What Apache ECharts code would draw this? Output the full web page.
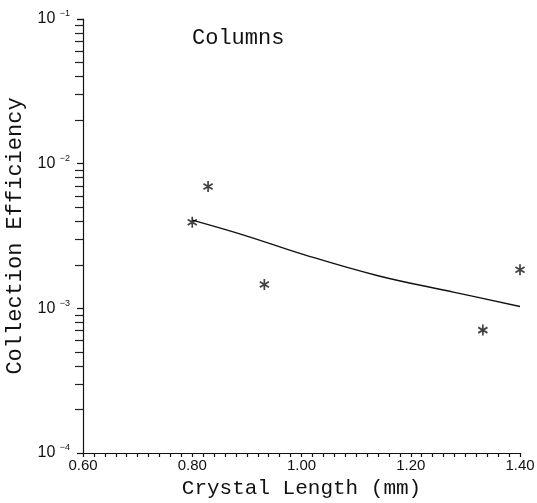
<!DOCTYPE html>
<html>
<head>
<meta charset="utf-8">
<script src="https://cdn.jsdelivr.net/npm/echarts@6/dist/echarts.min.js"></script>
<style>
  html, body { margin: 0; padding: 0; background: #fff; }
  #chart { width: 537px; height: 503px; }
</style>
</head>
<body>
<div id="chart"></div>
<script>
// measured points (asterisks)
var pointX = [0.80, 0.829, 0.932, 1.332, 1.40];
var pointY = [3.94e-3, 6.95e-3, 1.46e-3, 7.07e-4, 1.85e-3];

// fitted curve
var curveX = [0.80, 0.90, 1.00, 1.14, 1.28, 1.40];
var curveY = [4.07e-3, 3.16e-3, 2.38e-3, 1.68e-3, 1.29e-3, 1.03e-3];

var xTicks = ['0.60', '0.80', '1.00', '1.20', '1.40'];

var monoFont = '"Liberation Mono", "DejaVu Sans Mono", monospace';
var sansFont = '"Liberation Sans", Arial, sans-serif';

var star = 'path://M-0.8,-5L-0.8,5L0.8,5L0.8,-5Z' +
    'M3.93,3.19L4.73,1.81L-3.93,-3.19L-4.73,-1.81Z' +
    'M3.93,-3.19L-4.73,1.81L-3.93,3.19L4.73,-1.81Z';

var chart = echarts.init(document.getElementById('chart'));

var option = {
    backgroundColor: '#fff',
    animation: false,
    grid: { left: 83, right: 17, top: 19, bottom: 50, containLabel: false, outerBoundsMode: 'none' },
    xAxis: {
        type: 'value',
        min: 0.6,
        max: 1.4,
        interval: 0.2,
        name: 'Crystal Length (mm)',
        nameLocation: 'middle',
        nameGap: 25,
        nameTextStyle: { fontFamily: monoFont, fontSize: 21, color: '#111' },
        axisLine: { show: true, onZero: false, lineStyle: { color: '#111', width: 1.2 } },
        axisTick: { show: true, inside: false, length: 4, lineStyle: { color: '#111', width: 1.2 } },
        minorTick: { show: true, splitNumber: 10, length: 4, lineStyle: { color: '#111', width: 1.2 } },
        axisLabel: {
            margin: 5,
            fontFamily: sansFont,
            fontSize: 15,
            color: '#111',
            formatter: function (v) {
                return xTicks[Math.round((v - 0.6) / 0.2)];
            }
        },
        splitLine: { show: false }
    },
    yAxis: {
        type: 'log',
        logBase: 10,
        min: 1e-4,
        max: 1e-1,
        interval: 1,
        name: 'Collection Efficiency',
        nameLocation: 'middle',
        nameGap: 47,
        nameRotate: 90,
        nameTextStyle: { fontFamily: monoFont, fontSize: 22, color: '#111' },
        axisLine: { show: true, lineStyle: { color: '#111', width: 1.2 } },
        axisTick: { show: true, inside: false, length: 6, lineStyle: { color: '#111', width: 1.2 } },
        minorTick: { show: true, splitNumber: 9, length: 8, lineStyle: { color: '#222', width: 1.2 } },
        axisLabel: {
            margin: 13,
            fontFamily: sansFont,
            fontSize: 16,
            color: '#111',
            formatter: function (v) {
                var e = Math.round(Math.log(v) / Math.LN10);
                return '10 {s|\u2212' + Math.abs(e) + '}';
            },
            rich: {
                s: { fontFamily: sansFont, fontSize: 9, color: '#111', padding: [0, 0, 10, 0] }
            }
        },
        splitLine: { show: false }
    },
    graphic: [{
        type: 'text',
        left: 192,
        top: 27,
        style: { text: 'Columns', font: '22px ' + monoFont, fill: '#111' }
    }],
    series: [
        {
            type: 'line',
            data: curveX.map(function (x, i) { return [x, curveY[i]]; }),
            smooth: 0.4,
            showSymbol: false,
            lineStyle: { color: '#111', width: 1.4 }
        },
        {
            type: 'scatter',
            data: pointX.map(function (x, i) { return [x, pointY[i]]; }),
            symbol: star,
            symbolSize: [10, 11],
            itemStyle: { color: '#111' }
        }
    ]
};

chart.setOption(option);
</script>
</body>
</html>
